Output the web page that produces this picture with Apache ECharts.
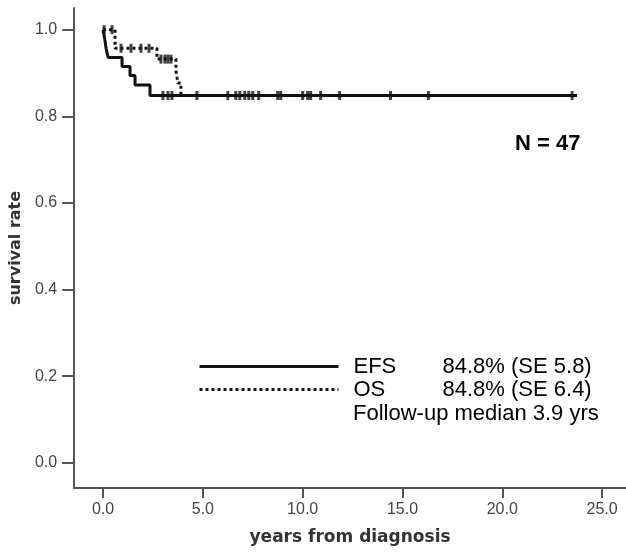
<!DOCTYPE html>
<html>
<head>
<meta charset="utf-8">
<script src="https://cdn.jsdelivr.net/npm/echarts@6/dist/echarts.min.js"></script>
<style>
  html, body { margin: 0; padding: 0; background: #fff; }
  #km { width: 626px; height: 552px; }
</style>
</head>
<body>
<div id="km"></div>
<script>
// Kaplan-Meier steps
var efsTimes = [0, 0.08, 0.15, 0.25, 0.95, 1.35, 1.6, 2.35, 23.75];
var efsSurv  = [1.0, 0.979, 0.957, 0.936, 0.915, 0.894, 0.872, 0.848, 0.848];
var osTimes  = [0, 0.6, 2.7, 3.65, 3.75, 3.9, 23.75];
var osSurv   = [1.0, 0.957, 0.932, 0.905, 0.877, 0.848, 0.848];

// censored patients (+ marks)
var efsCensT = [3.0, 3.25, 3.45, 4.7, 6.25, 6.65, 6.85, 7.1, 7.3, 7.5, 7.8, 8.75, 8.9, 10.0, 10.25, 10.4, 10.9, 11.85, 14.4, 16.3, 23.5];
var efsCensS = 0.848;
var osCensT  = [0.05, 0.45, 0.9, 1.4, 1.9, 2.3, 2.9, 3.1, 3.25, 3.4];
var osCensS  = [1.0, 1.0, 0.957, 0.957, 0.957, 0.957, 0.932, 0.932, 0.932, 0.932];

var xTicks = [0, 5, 10, 15, 20, 25];
var yTicks = [0, 0.2, 0.4, 0.6, 0.8, 1.0];

var legendNames = ['EFS', 'OS'];
var legendStats = ['84.8% (SE 5.8)', '84.8% (SE 6.4)'];

function pairs(xs, ys) {
  var out = [];
  for (var i = 0; i < xs.length; i++) {
    out.push([xs[i], Array.isArray(ys) ? ys[i] : ys]);
  }
  return out;
}

var chart = echarts.init(document.getElementById('km'));

var option = {
  animation: false,
  grid: { left: 72, top: 8, right: 0, bottom: 64 },
  xAxis: {
    type: 'value',
    min: -1.45,
    max: 26.2,
    name: 'years from diagnosis',
    nameLocation: 'middle',
    nameGap: 41,
    nameTextStyle: { fontFamily: 'DejaVu Sans', fontWeight: 'bold', fontSize: 17, color: '#333' },
    axisLine: { onZero: false, lineStyle: { color: '#555', width: 2 } },
    axisTick: { show: true, length: 10, customValues: xTicks, lineStyle: { color: '#555', width: 2 } },
    axisLabel: {
      customValues: xTicks,
      margin: 14,
      fontFamily: 'Liberation Sans',
      fontSize: 16,
      color: '#444',
      formatter: function (v) { return v.toFixed(1); }
    },
    splitLine: { show: false }
  },
  yAxis: {
    type: 'value',
    min: -0.058,
    max: 1.05,
    name: 'survival rate',
    nameLocation: 'middle',
    nameRotate: 90,
    nameGap: 50,
    nameTextStyle: { fontFamily: 'DejaVu Sans', fontWeight: 'bold', fontSize: 16, color: '#333' },
    axisLine: { onZero: false, lineStyle: { color: '#555', width: 2 } },
    axisTick: { show: true, length: 12, customValues: yTicks, lineStyle: { color: '#555', width: 2 } },
    axisLabel: {
      customValues: yTicks,
      margin: 17,
      fontFamily: 'Liberation Sans',
      fontSize: 16,
      color: '#444',
      formatter: function (v) { return v.toFixed(1); }
    },
    splitLine: { show: false }
  },
  legend: {
    data: legendNames,
    orient: 'vertical',
    left: 198,
    top: 355,
    padding: 0,
    itemWidth: 139,
    itemHeight: 23,
    itemGap: 0,
    itemStyle: { opacity: 0 },
    lineStyle: { width: 3 },
    formatter: function (name) {
      return '{n|' + name + '}' + legendStats[legendNames.indexOf(name)];
    },
    textStyle: {
      fontFamily: 'Liberation Sans',
      fontSize: 22,
      lineHeight: 23,
      color: '#000',
      rich: {
        n: { width: 89, padding: [0, 0, 0, 10], fontFamily: 'Liberation Sans', fontSize: 22, lineHeight: 23, color: '#000' }
      }
    }
  },
  graphic: [
    {
      type: 'text',
      left: 515,
      top: 133,
      style: { text: 'N = 47', font: 'bold 22px "Liberation Sans"', fill: '#000' }
    },
    {
      type: 'text',
      left: 353,
      top: 403,
      style: { text: 'Follow-up median 3.9 yrs', font: '22px "Liberation Sans"', fill: '#000' }
    }
  ],
  series: [
    {
      name: 'OS',
      type: 'line',
      step: 'end',
      symbol: 'none',
      data: pairs(osTimes, osSurv),
      lineStyle: { color: '#111', width: 3, type: [3, 3] },
      itemStyle: { color: '#111' },
      z: 2
    },
    {
      name: 'EFS',
      type: 'line',
      step: 'end',
      symbol: 'none',
      data: pairs(efsTimes, efsSurv),
      lineStyle: { color: '#111', width: 3, type: 'solid' },
      itemStyle: { color: '#111' },
      z: 3
    },
    {
      name: 'OS censored',
      type: 'scatter',
      symbol: 'rect',
      symbolSize: [3, 9],
      itemStyle: { color: '#111' },
      data: pairs(osCensT, osCensS),
      z: 4
    },
    {
      name: 'EFS censored',
      type: 'scatter',
      symbol: 'rect',
      symbolSize: [3, 9],
      itemStyle: { color: '#111' },
      data: pairs(efsCensT, efsCensS),
      z: 4
    }
  ]
};

chart.setOption(option);
</script>
</body>
</html>
